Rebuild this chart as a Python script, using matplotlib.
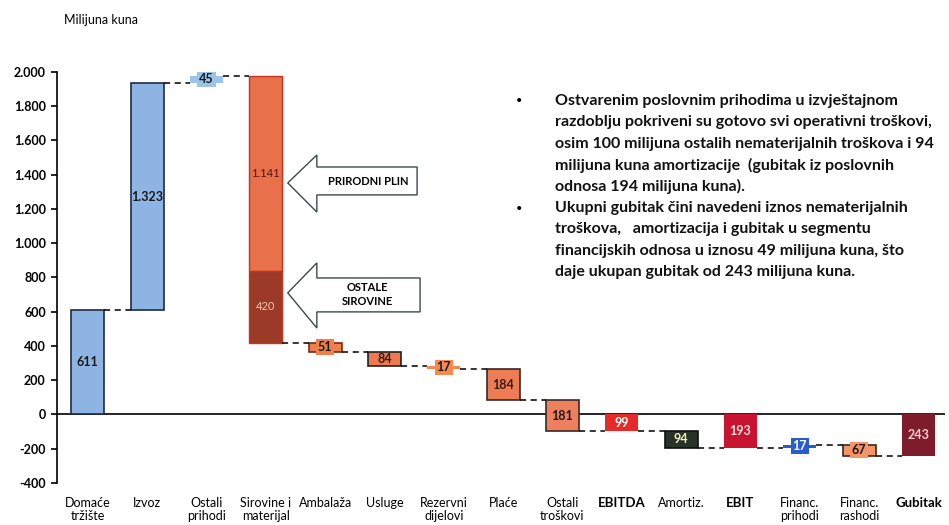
import numpy as np
import matplotlib
matplotlib.use("Agg")
import matplotlib.pyplot as plt
from matplotlib.patches import Polygon

plt.rcParams['font.family'] = ['Lato', 'DejaVu Sans']

# waterfall data (milijuna kuna)
categories = ['Domaće\ntržište', 'Izvoz', 'Ostali\nprihodi', 'Sirovine i\nmaterijal',
              'Ambalaža', 'Usluge', 'Rezervni\ndijelovi', 'Plaće', 'Ostali\ntroškovi',
              'EBITDA', 'Amortiz.', 'EBIT', 'Financ.\nprihodi', 'Financ.\nrashodi', 'Gubitak']
amounts = [611, 1323, 45, 1561, 51, 84, 17, 184, 181, 99, 94, 193, 17, 67, 243]
kinds = ['up', 'up', 'up', 'down', 'down', 'down', 'down', 'down', 'down',
         'total', 'down', 'total', 'up', 'down', 'total']
sirovine_parts = [1141, 420]   # prirodni plin, ostale sirovine
labels = ['611', '1.323', '45', None, '51', '84', '17', '184', '181',
          '99', '94', '193', '17', '67', '243']
sirovine_labels = ['1.141', '420']

colors = ['#8db4e2', '#8db4e2', '#9dc3e6', None, '#ee7f4f', '#ec7a4e', '#f48a50',
          '#ee7d56', '#ee8060', '#e52a2a', '#263326', '#c81430', '#2b5bd0',
          '#f49468', '#7e1c2c']
sirovine_colors = ['#e8704a', '#9b3a26']
edges = ['#1f2a44', '#1f2a44', 'none', None, '#7a2a10', '#222222', 'none',
         '#3a2a20', '#3a2a20', 'none', '#111111', 'none', 'none', '#3a2a20', 'none']
label_colors = ['#1a1a1a', '#1a1a1a', '#1a1a1a', None, '#1a1a1a', '#3a1a10', '#1a1a1a',
                '#3a1a10', '#1a1a1a', 'white', '#f0f0c0', '#ffe0e0', 'white',
                '#1a1a1a', '#ffd0d0']
small = [False, False, True, False, True, False, True, False, False,
         False, False, False, True, True, False]
bold_labels = ['EBITDA', 'EBIT', 'Gubitak']

yticks = [2000, 1800, 1600, 1400, 1200, 1000, 800, 600, 400, 200, 0, -200, -400]
ytick_labels = ['2.000', '1.800', '1.600', '1.400', '1.200', '1.000', '800', '600',
                '400', '200', '0', '-200', '-400']

bullet_1 = ["Ostvarenim poslovnim prihodima u izvještajnom",
            "razdoblju pokriveni su gotovo svi operativni troškovi,",
            "osim 100 milijuna ostalih nematerijalnih troškova i 94",
            "milijuna kuna amortizacije  (gubitak iz poslovnih",
            "odnosa 194 milijuna kuna)."]
bullet_2 = ["Ukupni gubitak čini navedeni iznos nematerijalnih",
            "troškova,   amortizacija i gubitak u segmentu",
            "financijskih odnosa u iznosu 49 milijuna kuna, što",
            "daje ukupan gubitak od 243 milijuna kuna."]

fig = plt.figure(figsize=(9.49, 5.25), dpi=100)
ax = fig.add_axes([0.060, 0.080, 0.936, 0.783])

width = 0.56
x = np.arange(len(categories))

# running totals
bottoms, tops = [], []
level = 0
for amt, kind in zip(amounts, kinds):
    if kind == 'up':
        b, t = level, level + amt
        level = t
    elif kind == 'down':
        b, t = level - amt, level
        level = b
    else:
        b, t = level, 0
    bottoms.append(b)
    tops.append(t)

for i in range(len(categories)):
    b, t = bottoms[i], tops[i]
    if i == 3:
        seg_top = t
        for part, col, lab in zip(sirovine_parts, sirovine_colors, sirovine_labels):
            ax.bar(x[i], part, width, bottom=seg_top - part, color=col,
                   edgecolor='#c8321e', linewidth=1.0)
            ax.text(x[i], seg_top - part / 2, lab, ha='center', va='center',
                    fontsize=8, color='#5a1010' if col == '#e8704a' else '#f4c8b0')
            seg_top -= part
        continue
    lw = 1.2 if edges[i] != 'none' else 0
    ax.bar(x[i], t - b, width, bottom=b, color=colors[i], edgecolor=edges[i],
           linewidth=lw)
    mid = (b + t) / 2
    if small[i]:
        ax.text(x[i], mid, labels[i], ha='center', va='center', fontsize=9,
                fontweight='bold', color=label_colors[i],
                bbox=dict(boxstyle='square,pad=0.15', fc=colors[i], ec='none'))
    else:
        ax.text(x[i], mid, labels[i], ha='center', va='center', fontsize=9,
                fontweight='bold', color=label_colors[i])

# dashed connectors
for i in range(len(categories) - 1):
    if kinds[i] == 'up':
        lvl = tops[i]
    else:
        lvl = bottoms[i]
    ax.plot([x[i] + width / 2, x[i + 1] - width / 2], [lvl, lvl], ls=(0, (4, 3)),
            color='black', lw=1.1, zorder=1)

ax.axhline(0, color='black', lw=1.2, zorder=0.5)

ax.set_xlim(-0.52, 14.45)
ax.set_ylim(-400, 2000)
ax.set_yticks(yticks)
ax.set_yticklabels(ytick_labels, fontsize=9, fontweight='bold')
ax.tick_params(axis='y', length=4, width=1.2, pad=4)
ax.set_xticks(x)
ax.set_xticklabels(categories, fontsize=9, linespacing=1.15)
for lbl in ax.get_xticklabels():
    if lbl.get_text() in bold_labels:
        lbl.set_fontweight('bold')
        lbl.set_fontsize(9.5)
ax.tick_params(axis='x', length=0, pad=10)
for s in ['top', 'right', 'bottom']:
    ax.spines[s].set_visible(False)
ax.spines['left'].set_linewidth(1.2)


def block_arrow(tip_x, tip_y, head_x, head_lo, head_hi, body_lo, body_hi, right):
    pts = [(tip_x, tip_y), (head_x, head_hi), (head_x, body_hi), (right, body_hi),
           (right, body_lo), (head_x, body_lo), (head_x, head_lo)]
    ax.add_patch(Polygon(pts, closed=True, fc='white', ec='#3a4a4a', lw=1.0,
                         zorder=3, clip_on=False))


block_arrow(3.37, 1352, 3.86, 1182, 1515, 1282, 1445, 5.55)
ax.text(4.72, 1362, 'PRIRODNI PLIN', ha='center', va='center', fontsize=8,
        fontweight='bold', zorder=4)
block_arrow(3.37, 710, 3.86, 505, 885, 599, 797, 5.6)
ax.text(4.72, 700, 'OSTALE\nSIROVINE', ha='center', va='center', fontsize=8,
        fontweight='bold', zorder=4, linespacing=1.3)

fig.text(0.067, 0.962, 'Milijuna kuna', fontsize=9, ha='left', va='center')

# bullet text block
line_h = 21.4
y0 = 101
for j, line in enumerate(bullet_1 + bullet_2):
    ypx = y0 + j * line_h
    fig.text(555 / 949, 1 - ypx / 525, line, fontsize=11.5, fontweight='bold',
             ha='left', va='center', color='#111111')
for ypx in [y0, y0 + 5 * line_h]:
    fig.text(516 / 949, 1 - ypx / 525, '•', fontsize=8, ha='left', va='center')

fig.savefig('out.png', dpi=100)
